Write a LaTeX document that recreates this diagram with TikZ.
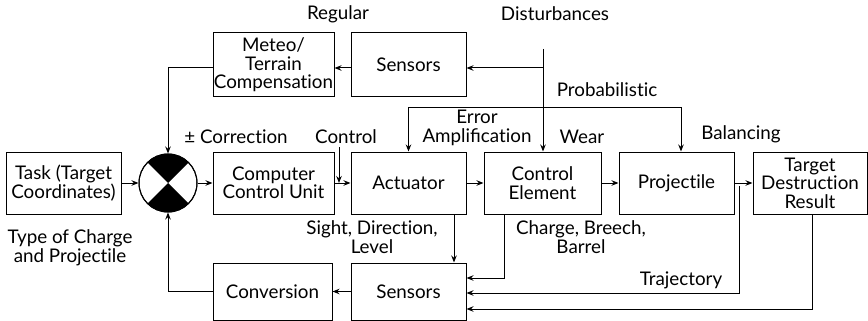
\documentclass[tikz,border=0pt]{standalone}
\usepackage{fontspec}
\setmainfont{Lato}
\usetikzlibrary{arrows.meta}
% keep "t" and "i" as separate glyphs
\newcommand\tisep{t\kern0pt i}
\begin{document}
\begin{tikzpicture}[x=1pt,y=-1pt,
  every node/.style={font=\fontsize{18.8}{18.5}\selectfont, align=center, inner sep=0pt},
  blk/.style={draw, line width=1pt, minimum height=62pt},
  wire/.style={line width=1pt},
  arr/.style={wire, -{Stealth[length=7pt,width=5.5pt]}},
]
\useasboundingbox (0,0) rectangle (868,321);

% blocks of the upper branch
\node[blk, minimum width=121pt, minimum height=64pt] (meteo) at (273.5,65) {Meteo/\\Terrain\\Compensa\tisep on};
\node[blk, minimum width=115pt, minimum height=64pt] (sensT) at (408.5,65) {Sensors};

% main chain
\node[blk, minimum width=115pt] (task) at (63.5,183) {Task (Target\\Coordinates)};
\node[draw, circle, line width=1pt, fill=white, minimum size=58pt] (sum) at (168,183) {};
\fill (sum.center) -- ++(45:29pt) arc[start angle=45, end angle=135, radius=29pt] -- cycle;
\fill (sum.center) -- ++(225:29pt) arc[start angle=225, end angle=315, radius=29pt] -- cycle;
\draw[line width=1pt] (sum) circle[radius=29pt];
\node[blk, minimum width=121pt] (ccu) at (273.5,183) {Computer\\Control Unit};
\node[blk, minimum width=115pt] (act) at (408.5,183) {Actuator};
\node[blk, minimum width=117pt] (ctl) at (542.5,183) {Control\\Element};
\node[blk, minimum width=115pt] (proj) at (676.5,183) {Projec\tisep le};
\node[blk, minimum width=114pt] (tgt) at (810,183) {Target\\Destruc\tisep on\\Result};

% feedback blocks
\node[blk, minimum width=119pt, minimum height=57pt] (conv) at (272.5,291.5) {Conversion};
\node[blk, minimum width=115pt, minimum height=57pt] (sensB) at (408.5,291.5) {Sensors};

% disturbance inputs
\coordinate (dtop) at (543,49);
\coordinate (dj) at (543,68);
\draw[arr] (dtop) -- (dtop |- ctl.north);
\draw[arr] (dj) -- (sensT.east |- dj);
\draw[arr] (sensT.west |- dj) -- (meteo.east |- dj);
\draw[arr] (meteo.west |- dj) -| (sum.north);

\coordinate (pl) at (408.5,107);
\coordinate (pr) at (681,107);
\draw[arr] (pl) -- (act.north);
\draw[arr] (pl) -- (pr) -- (pr |- proj.north);

\coordinate (ctop) at (339,147);
\coordinate (cbot) at (ctop |- act.west);
\draw[arr] (ctop) -- (cbot);

% forward path
\draw[arr] (task) -- (sum);
\draw[arr] (sum) -- (ccu);
\draw[arr] (ccu) -- (act);
\draw[arr] (act) -- (ctl);
\draw[arr] (ctl) -- (proj);
\draw[arr] (proj) -- (tgt);

% measured quantities
\coordinate (tj) at (739,186);
\coordinate (tr) at (739,293);
\draw[arr] (tj) -- (tr) -- (tr -| sensB.east);
\coordinate (tb) at (812,309);
\draw[arr] (tgt.south -| tb) -- (tb) -- (tb -| sensB.east);
\coordinate (cb) at (504,278);
\draw[arr] (ctl.south -| cb) -- (cb) -- (cb -| sensB.east);
\coordinate (ab) at (454,240);
\draw[arr] (act.south -| ab) -- (sensB.north -| ab);

% feedback path
\draw[arr] (sensB) -- (conv);
\draw[arr] (conv.west) -| (sum.south);

% labels
\node (lreg) at (338,14) {Regular};
\node (ldist) at (555,14) {Disturbances};
\node (lprob) at (607,90) {Probabilis\tisep c};
\node (lcorr) at (236,137) {± Correc\tisep on};
\node (lctl) at (346,137) {Control};
\node (lerr) at (477,128) {Error\\Amplifica\tisep on};
\node (lwear) at (582,137) {Wear};
\node (lbal) at (741,134) {Balancing};
\node (ltype) at (70,248) {Type of Charge\\and Projec\tisep le};
\node (lsight) at (372,237) {Sight, Direc\tisep on,\\Level};
\node (lchg) at (581,237) {Charge, Breech,\\Barrel};
\node (ltraj) at (681,280) {Trajectory};
\end{tikzpicture}
\end{document}
